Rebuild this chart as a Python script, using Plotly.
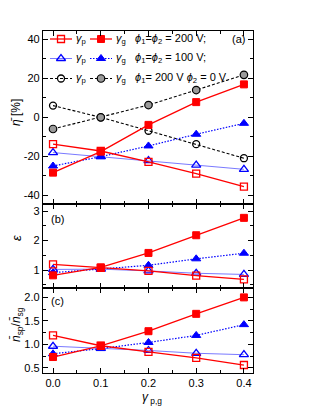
import plotly.graph_objects as go

# ---------------- data ----------------
gamma = [0.0, 0.1, 0.2, 0.3, 0.4]

# panel (a): eta [%]
eta_p_200 = [-13.8, -17.3, -22.9, -28.9, -35.6]
eta_g_200 = [-28.4, -17.6, -3.9, 7.8, 16.9]
eta_p_100 = [-18.1, -20.2, -22.2, -24.5, -26.7]
eta_g_100 = [-25.0, -20.2, -14.7, -8.7, -3.1]
eta_p_2000 = [6.0, 0.0, -6.9, -13.8, -21.0]
eta_g_2000 = [-6.0, 0.0, 6.3, 14.0, 21.8]

# panel (b): epsilon
eps_p_200 = [1.19, 1.07, 0.97, 0.81, 0.68]
eps_g_200 = [0.82, 1.09, 1.58, 2.18, 2.77]
eps_p_100 = [1.02, 1.03, 0.97, 0.89, 0.85]
eps_g_100 = [0.91, 1.03, 1.16, 1.38, 1.57]

# panel (c): n_sp / n_sg
n_p_200 = [1.19, 0.97, 0.84, 0.71, 0.56]
n_g_200 = [0.73, 0.97, 1.28, 1.65, 2.00]
n_p_100 = [0.96, 0.92, 0.87, 0.81, 0.78]
n_g_100 = [0.80, 0.91, 1.04, 1.19, 1.42]

# ---------------- layout geometry (page pixels; page body has 8px margin) ----------------
OFF = 8
W, H = 316, 409
L, R, T, B = 43, 253, 31, 373  # plot area in page pixels
PW, PH = R - L, B - T


def px(x):
    return (x - L) / PW


def py(y):
    return (B - y) / PH


dom_c = [0, py(288)]
dom_b = [py(288), py(204)]
dom_a = [py(204), 1]

RED = "#ff0000"
BLUE = "#0000ff"
LBLUE = "#6a6aff"
BLACK = "#000000"
GRAY = "#9a9a9a"

styles = {
    "p200": dict(line=dict(color=RED, width=1.3),
                 marker=dict(symbol="square-open", size=7, color=RED, line=dict(width=1.3, color=RED))),
    "g200": dict(line=dict(color=RED, width=1.3),
                 marker=dict(symbol="square", size=7, color=RED, line=dict(width=1, color=RED))),
    "p100": dict(line=dict(color=LBLUE, width=0.9),
                 marker=dict(symbol="triangle-up-open", size=8, color=BLUE, line=dict(width=1.3, color=BLUE))),
    "g100": dict(line=dict(color=BLUE, width=1.2, dash="1.5px,1.5px"),
                 marker=dict(symbol="triangle-up", size=8, color=BLUE, line=dict(width=1, color=BLUE))),
    "p2000": dict(line=dict(color=BLACK, width=1.1, dash="3px,2px"),
                  marker=dict(symbol="circle-open", size=7, color=BLACK, line=dict(width=1.3, color=BLACK))),
    "g2000": dict(line=dict(color=BLACK, width=1.1, dash="3px,2px"),
                  marker=dict(symbol="circle", size=7.5, color=GRAY, line=dict(width=1.2, color=BLACK))),
}

fig = go.Figure()


def add(y, key, xa, ya):
    st = styles[key]
    fig.add_trace(go.Scatter(x=gamma, y=y, mode="lines+markers", line=st["line"],
                             marker=st["marker"], xaxis=xa, yaxis=ya, showlegend=False,
                             cliponaxis=False))


# panel a -> x3/y3
for y, k in [(eta_p_2000, "p2000"), (eta_g_2000, "g2000"), (eta_p_100, "p100"),
             (eta_g_100, "g100"), (eta_p_200, "p200"), (eta_g_200, "g200")]:
    add(y, k, "x3", "y3")
# panel b -> x2/y2
for y, k in [(eps_p_100, "p100"), (eps_g_100, "g100"), (eps_p_200, "p200"), (eps_g_200, "g200")]:
    add(y, k, "x2", "y2")
# panel c -> x/y
for y, k in [(n_p_100, "p100"), (n_g_100, "g100"), (n_p_200, "p200"), (n_g_200, "g200")]:
    add(y, k, "x", "y")

# legend keys drawn on an overlay axis (page-pixel units of panel a)
legend_rows = [(39, "p200", "g200", "<i>ϕ</i><sub>1</sub>=<i>ϕ</i><sub>2</sub> = 200 V;"),
               (58.5, "p100", "g100", "<i>ϕ</i><sub>1</sub>=<i>ϕ</i><sub>2</sub> = 100 V;"),
               (78.5, "p2000", "g2000", "<i>ϕ</i><sub>1</sub>= 200 V <i>ϕ</i><sub>2</sub> = 0 V.")]
legend_cols = [50, 90]
annotations = []
for yrow, kp, kg, txt in legend_rows:
    for x0, k, lab in [(legend_cols[0], kp, "<i>γ</i><sub>p</sub>"), (legend_cols[1], kg, "<i>γ</i><sub>g</sub>")]:
        st = styles[k]
        fig.add_trace(go.Scatter(x=[x0, x0 + 22], y=[yrow, yrow], mode="lines", line=st["line"],
                                 xaxis="x4", yaxis="y4", showlegend=False, hoverinfo="skip"))
        fig.add_trace(go.Scatter(x=[x0 + 11], y=[yrow], mode="markers", marker=st["marker"],
                                 xaxis="x4", yaxis="y4", showlegend=False, hoverinfo="skip"))
        annotations.append(dict(x=px(x0 + 24), y=py(yrow), xref="paper", yref="paper", text=lab,
                                showarrow=False, xanchor="left", yanchor="middle",
                                font=dict(size=11)))
    annotations.append(dict(x=px(133), y=py(yrow), xref="paper", yref="paper", text=txt,
                            showarrow=False, xanchor="left", yanchor="middle", font=dict(size=11)))

# panel labels
annotations += [
    dict(x=px(247), y=py(39), text="(a)", xanchor="right"),
    dict(x=px(49), y=py(219), text="(b)", xanchor="left"),
    dict(x=px(49), y=py(300.5), text="(c)", xanchor="left"),
]
for a in annotations[-3:]:
    a.update(xref="paper", yref="paper", showarrow=False, yanchor="middle", font=dict(size=11))

# axis titles
annotations += [
    dict(x=px(16), y=py(113), text="<i>η̄</i> [%]", textangle=-90, font=dict(size=12)),
    dict(x=px(16), y=py(238), text="<i>ε</i>", textangle=-90, font=dict(size=13)),
    dict(x=px(17), y=py(325), text="<i>n̄</i><sub>sp</sub>/<i>n̄</i><sub>sg</sub>", textangle=-90,
         font=dict(size=12)),
    dict(x=px(152), y=py(398), text="<i>γ</i><sub> p,g</sub>", font=dict(size=12)),
]
for a in annotations[-4:]:
    a.update(xref="paper", yref="paper", showarrow=False, xanchor="center", yanchor="middle")

common = dict(showline=True, linecolor="black", linewidth=1.3, mirror="ticks", ticks="inside",
              ticklen=5, tickwidth=1, tickcolor="black", showgrid=False, zeroline=False,
              tickfont=dict(size=11, color="black"))

xr = [-0.021, 0.419]
xcommon = dict(common, range=xr, tickmode="array", tickvals=gamma,
               ticktext=["0.0", "0.1", "0.2", "0.3", "0.4"],
               minor=dict(ticks="inside", ticklen=3, tickwidth=1, tickcolor="black", showgrid=False,
                          tickmode="array", tickvals=[0.05, 0.15, 0.25, 0.35]))


def minor(vals):
    return dict(ticks="inside", ticklen=3, tickwidth=1, tickcolor="black", showgrid=False,
                tickmode="array", tickvals=vals)


fig.update_layout(
    width=W, height=H,
    margin=dict(l=L - OFF, r=W - R + OFF, t=T - OFF, b=H - B + OFF, pad=0),
    paper_bgcolor="white", plot_bgcolor="rgba(0,0,0,0)",
    font=dict(family="Liberation Sans, Arial, sans-serif", color="black"),
    showlegend=False,
    xaxis=dict(xcommon, domain=[0, 1], anchor="y"),
    xaxis2=dict(xcommon, domain=[0, 1], anchor="y2", showticklabels=False),
    xaxis3=dict(xcommon, domain=[0, 1], anchor="y3", showticklabels=False),
    yaxis=dict(common, domain=dom_c, anchor="x", range=[0.39, 2.2], tickmode="array",
               tickvals=[0.5, 1.0, 1.5, 2.0], ticktext=["0.5", "1.0", "1.5", "2.0"],
               minor=minor([0.75, 1.25, 1.75])),
    yaxis2=dict(common, domain=dom_b, anchor="x2", range=[0.39, 3.24], tickmode="array",
                tickvals=[1, 2, 3], ticktext=["1", "2", "3"], minor=minor([0.5, 1.5, 2.5])),
    yaxis3=dict(common, domain=dom_a, anchor="x3", range=[-44.5, 44.3], tickmode="array",
                tickvals=[-40, -20, 0, 20, 40], ticktext=["-40", "-20", "0", "20", "40"],
                minor=minor([-30, -10, 10, 30])),
    xaxis4=dict(overlaying="x3", anchor="y4", range=[L, R], visible=False, fixedrange=True),
    yaxis4=dict(overlaying="y3", anchor="x4", range=[204, T], visible=False, fixedrange=True),
    annotations=annotations,
)

fig.write_html("out.html")
